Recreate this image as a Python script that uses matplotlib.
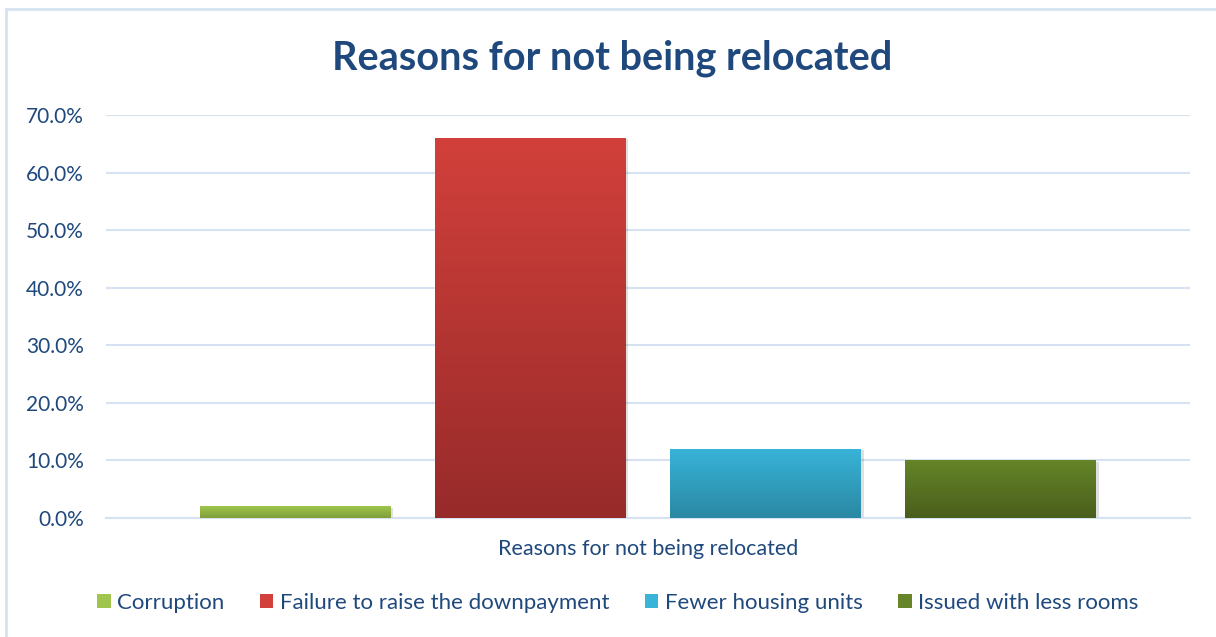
import numpy as np
import matplotlib.pyplot as plt
from matplotlib.patches import Rectangle
from matplotlib.colors import LinearSegmentedColormap
from matplotlib.ticker import FuncFormatter


OUTPUT_FILE = "out.png"

TITLE = "Reasons for not being relocated"
CATEGORY = "Reasons for not being relocated"
SERIES = ["Corruption", "Failure to raise the downpayment",
          "Fewer housing units", "Issued with less rooms"]
VALUES = [0.02, 0.66, 0.12, 0.10]
TOP_COLORS = ["#9fc54c", "#d2403b", "#38b4d9", "#658528"]
BOTTOM_COLORS = ["#7f9f3c", "#972b2a", "#2a88a3", "#4a5e1c"]
Y_TICKS = [0.0, 0.1, 0.2, 0.3, 0.4, 0.5, 0.6, 0.7]

TEXT_COLOR = "#1f497d"
GRID_COLOR = "#d6e2f1"

plt.rcParams["font.family"] = ["Lato", "DejaVu Sans"]


def gradient_bar(ax, bar, top, bottom):
    cmap = LinearSegmentedColormap.from_list("g", [bottom, top])
    x0, y0 = bar.get_x(), bar.get_y()
    w, h = bar.get_width(), bar.get_height()
    grad = np.linspace(0, 1, 256).reshape(-1, 1)
    im = ax.imshow(grad, cmap=cmap, origin="lower", aspect="auto",
                   extent=[x0, x0 + w, y0, y0 + h], zorder=3)
    im.set_clip_path(bar)


def main():
    fig = plt.figure(figsize=(12.16, 6.37), dpi=100)
    fig.patch.set_facecolor("white")

    # outer chart border
    fig.patches.append(Rectangle((6 / 1216, -0.1), 1.2, 1 - 9 / 637 + 0.1,
                                 transform=fig.transFigure, fill=False,
                                 edgecolor=GRID_COLOR, linewidth=2))

    ax = fig.add_axes([106 / 1216, 1 - 518 / 637, 1084 / 1216, 403 / 637])

    n = len(SERIES)
    offsets = np.arange(n) - (n - 1) / 2
    width = 0.81

    for i in range(n):
        # soft shadow
        ax.bar(offsets[i] + 0.012, VALUES[i], width=width, bottom=-0.002,
               color="#000000", alpha=0.12, zorder=2, linewidth=0)
        bars = ax.bar(offsets[i], VALUES[i], width=width,
                      color=TOP_COLORS[i], label=SERIES[i], zorder=3,
                      linewidth=0)
        gradient_bar(ax, bars[0], TOP_COLORS[i], BOTTOM_COLORS[i])

    ax.set_xlim(-2.306, 2.306)
    ax.set_ylim(0, 0.7)
    ax.set_yticks(Y_TICKS)
    ax.yaxis.set_major_formatter(FuncFormatter(lambda v, p: f"{v * 100:.1f}%"))
    ax.set_xticks([])
    ax.tick_params(axis="y", length=0, pad=16, labelsize=15,
                   labelcolor=TEXT_COLOR)
    ax.grid(axis="y", color=GRID_COLOR, linewidth=1.5, zorder=0)
    ax.set_axisbelow(True)
    for side in ["left", "right", "top"]:
        ax.spines[side].set_visible(False)
    ax.spines["bottom"].set_color(GRID_COLOR)
    ax.spines["bottom"].set_linewidth(1.5)

    ax.set_xlabel(CATEGORY, fontsize=15.5, color=TEXT_COLOR, labelpad=15)

    fig.text(612 / 1216, 1 - 58 / 637, TITLE, ha="center", va="center",
             fontsize=28.5, fontweight="bold", color=TEXT_COLOR)

    handles = [Rectangle((0, 0), 1, 1, facecolor=TOP_COLORS[i])
               for i in range(n)]
    fig.legend(handles, SERIES, loc="center", ncol=n,
               bbox_to_anchor=(618 / 1216, 1 - 603 / 637), frameon=False,
               fontsize=16, labelcolor=TEXT_COLOR, handlelength=0.6,
               handleheight=0.6, handletextpad=0.3, columnspacing=1.6)

    fig.savefig(OUTPUT_FILE, dpi=100)
    plt.close(fig)


if __name__ == "__main__":
    main()
